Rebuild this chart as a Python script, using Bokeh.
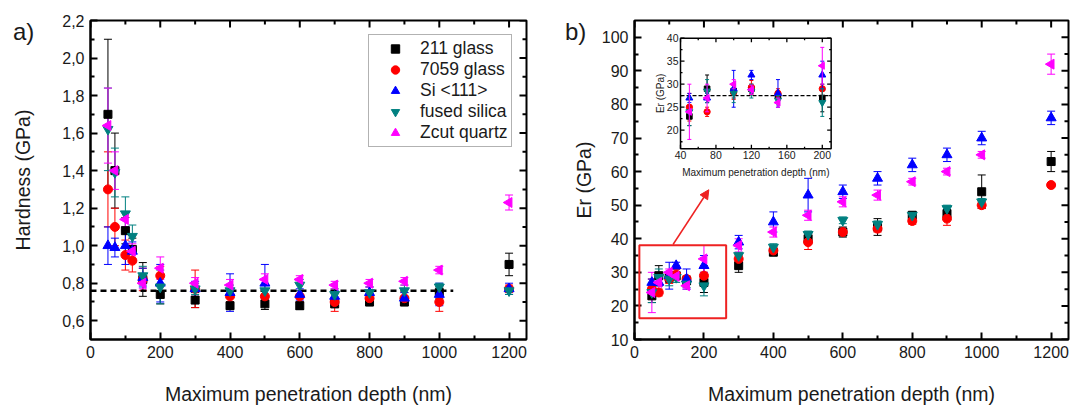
import numpy as np
from bokeh.plotting import figure
from bokeh.layouts import row
from bokeh.models import (ColumnDataSource, Whisker, TeeHead, FixedTicker, Div,
                          CustomJSTickFormatter, Arrow, NormalHead, Range1d, BoxAnnotation)
from bokeh.core.properties import value
from bokeh.embed import file_html
from bokeh.resources import INLINE

# ---------------- data ----------------
depth = [50, 70, 100, 120, 150, 200, 300, 400, 500, 600, 700, 800, 900, 1000, 1200]
names = ["211 glass", "7059 glass", "Si <111>", "fused silica", "Zcut quartz"]

hard_211 = [1.70, 1.40, 1.08, 0.98, 0.82, 0.74, 0.71, 0.68, 0.69, 0.68, 0.69, 0.70, 0.70, 0.75, 0.90]
hard_211_err = [0.40, 0.20, 0.07, 0.06, 0.09, 0.05, 0.04, 0.02, 0.03, 0.02, 0.02, 0.02, 0.02, 0.03, 0.06]
hard_7059 = [1.30, 1.10, 0.95, 0.92, 0.82, 0.84, 0.77, 0.73, 0.73, 0.73, 0.70, 0.72, 0.72, 0.70, 0.77]
hard_7059_err = [0.20, 0.10, 0.08, 0.06, 0.06, 0.05, 0.10, 0.03, 0.04, 0.03, 0.05, 0.02, 0.03, 0.05, 0.02]
hard_si = [1.00, 0.99, 1.00, 0.97, 0.83, 0.80, 0.77, 0.75, 0.80, 0.74, 0.73, 0.75, 0.72, 0.74, 0.77]
hard_si_err = [0.10, 0.05, 0.10, 0.05, 0.05, 0.10, 0.04, 0.10, 0.10, 0.03, 0.03, 0.03, 0.03, 0.06, 0.03]
hard_fused = [1.62, 1.39, 1.17, 1.05, 0.84, 0.78, 0.77, 0.76, 0.76, 0.79, 0.74, 0.75, 0.76, 0.78, 0.76]
hard_fused_err = [0.22, 0.13, 0.09, 0.06, 0.05, 0.09, 0.03, 0.03, 0.03, 0.03, 0.03, 0.03, 0.03, 0.02, 0.02]
hard_zcut = [1.64, 1.40, 1.14, 0.97, 0.80, 0.88, 0.80, 0.79, 0.82, 0.82, 0.79, 0.80, 0.81, 0.87, 1.23]
hard_zcut_err = [0.20, 0.10, 0.04, 0.04, 0.03, 0.06, 0.03, 0.03, 0.03, 0.02, 0.02, 0.02, 0.02, 0.02, 0.04]
hard_mean = 0.76
hard_mean_extent = [0, 1040]

er_211 = [23, 29, 28.5, 29, 27.5, 27, 32, 36, 40, 42, 43.5, 47, 47.5, 54, 63]
er_211_err = [2, 3, 1.5, 1, 1, 3, 2, 1, 1.5, 1.5, 2.5, 1, 1, 5, 3]
er_7059 = [25, 24, 28.2, 29.3, 28, 29, 34, 36.5, 39, 42, 43, 45.3, 46, 50, 56]
er_7059_err = [3, 1, 1.5, 1.5, 1, 3, 1, 1, 2.2, 1, 1, 1, 2, 1, 0.5]
er_si = [27, 27, 29, 32, 28, 32, 39, 45, 53, 54, 58, 62, 65, 70, 76]
er_si_err = [1, 1, 4, 1, 3, 3, 2, 3, 5, 2, 2, 2, 2, 2, 2]
er_fused = [24, 28.5, 28, 28.5, 26.5, 26, 35, 37.5, 41.3, 45.5, 44.3, 47, 49, 51]
er_fused_err = [3, 2.5, 2, 1.5, 1, 3, 1, 1, 1, 1, 1, 1, 1, 1]
er_zcut = [24, 27, 30, 28.8, 26, 34, 38, 42, 47, 51, 53, 57, 60, 65, 92]
er_zcut_err = [6, 3, 1, 1, 1, 4, 2, 1.5, 1.5, 1.5, 1.5, 1, 1, 1, 3]
er_mean_small = 27.5

x_ticks = [0, 200, 400, 600, 800, 1000, 1200]
x_minor = [100, 300, 500, 700, 900, 1100]
hard_ticks = [0.6, 0.8, 1.0, 1.2, 1.4, 1.6, 1.8, 2.0, 2.2]
hard_minor = [0.7, 0.9, 1.1, 1.3, 1.5, 1.7, 1.9, 2.1]
er_ticks = [10, 20, 30, 40, 50, 60, 70, 80, 90, 100]
er_minor = [15, 25, 35, 45, 55, 65, 75, 85, 95]
inset_x_ticks = [40, 80, 120, 160, 200]
inset_x_minor = [60, 100, 140, 180]
inset_y_ticks = [20, 25, 30, 35, 40]
inset_y_minor = [17.5, 22.5, 27.5, 32.5, 37.5]

colors = ["#000000", "#ff0000", "#0000ff", "#008080", "#ff00ff"]
markers = ["square", "circle", "triangle", "inverted_triangle", "triangle"]
angles = [0.0, 0.0, 0.0, 0.0, np.pi / 2]
sizes = [8, 9, 10, 10, 10]

FONT = "Liberation Sans"
TXT = "#1a1a1a"


def style_axis(ax, size="16px", standoff=6, tick_in=7, minor_in=4, lw=2):
    ax.major_label_text_font = FONT
    ax.major_label_text_font_size = size
    ax.major_label_text_color = TXT
    ax.major_label_standoff = standoff
    ax.axis_label_text_font = FONT
    ax.axis_label_text_font_style = "normal"
    ax.axis_label_text_color = TXT
    ax.axis_label_text_font_size = "19.5px"
    ax.major_tick_in = tick_in
    ax.major_tick_out = 0
    ax.minor_tick_in = minor_in
    ax.minor_tick_out = 0
    ax.axis_line_width = lw
    ax.major_tick_line_width = lw
    ax.minor_tick_line_width = lw
    ax.axis_line_color = "black"
    ax.major_tick_line_color = "black"
    ax.minor_tick_line_color = "black"


def mirror_ticks(p, xr, yr, xmaj, xmin, ymaj, ymin, major=7, minor=4, lw=2):
    st = dict(line_color="black", line_width=lw, length_units="screen")
    p.ray(x=xmaj, y=[yr.end] * len(xmaj), length=major, angle=-np.pi / 2, **st)
    p.ray(x=xmin, y=[yr.end] * len(xmin), length=minor, angle=-np.pi / 2, **st)
    p.ray(x=[xr.end] * len(ymaj), y=ymaj, length=major, angle=np.pi, **st)
    p.ray(x=[xr.end] * len(ymin), y=ymin, length=minor, angle=np.pi, **st)


def draw_series(p, x, y, err, i, legend=True):
    lo = [v - e for v, e in zip(y, err)]
    hi = [v + e for v, e in zip(y, err)]
    src = ColumnDataSource(dict(x=x[:len(y)], y=y, lo=lo, hi=hi))
    c = colors[i]
    w = Whisker(source=src, base="x", upper="hi", lower="lo", line_color=c, line_width=1,
                upper_head=TeeHead(size=8, line_color=c, line_width=1),
                lower_head=TeeHead(size=8, line_color=c, line_width=1))
    p.add_layout(w)
    kw = {"legend_label": names[i]} if legend else {}
    p.scatter("x", "y", source=src, marker=markers[i], size=sizes[i], angle=angles[i],
              fill_color=c, line_color=c, **kw)


def make_figure(width, xr, yr, border_left, border_right):
    p = figure(width=width, height=410, x_range=xr, y_range=yr,
               output_backend="svg", toolbar_location=None,
               min_border_left=border_left, min_border_right=border_right,
               min_border_top=20, min_border_bottom=71)
    p.grid.visible = False
    p.outline_line_color = "black"
    p.outline_line_width = 2
    return p


def panel_tag(text, left, top):
    return Div(text=text, styles={"position": "absolute", "left": f"{left}px", "top": f"{top}px",
                                  "font-family": FONT, "font-size": "24px", "line-height": "1",
                                  "color": TXT, "margin": "0", "padding": "0"})


# ---------------- panel a ----------------
xr1, yr1 = Range1d(0, 1250), Range1d(0.5, 2.2)
p1 = make_figure(560, xr1, yr1, 90, 34)
p1.xaxis.ticker = FixedTicker(ticks=x_ticks, minor_ticks=x_minor)
p1.yaxis.ticker = FixedTicker(ticks=hard_ticks, minor_ticks=hard_minor)
p1.yaxis.formatter = CustomJSTickFormatter(code="return tick.toFixed(1).replace('.', ',');")
p1.xaxis.axis_label = "Maximum penetration depth (nm)"
p1.yaxis.axis_label = "Hardness (GPa)"
for ax in (p1.xaxis[0], p1.yaxis[0]):
    style_axis(ax)
p1.xaxis.axis_label_standoff = 22
p1.yaxis.axis_label_standoff = 25
mirror_ticks(p1, xr1, yr1, x_ticks, x_minor, hard_ticks, hard_minor)

p1.line(hard_mean_extent, [hard_mean, hard_mean], line_color="black", line_width=2.5, line_dash="6 4")

hard = [(hard_211, hard_211_err), (hard_7059, hard_7059_err), (hard_si, hard_si_err),
        (hard_fused, hard_fused_err), (hard_zcut, hard_zcut_err)]
for i, (v, e) in enumerate(hard):
    draw_series(p1, depth, v, e, i)

lg = p1.legend[0]
lg.location = (278, 192)
lg.padding = 3
lg.spacing = 0
lg.margin = 0
lg.label_height = 21
lg.glyph_height = 21
lg.glyph_width = 46
lg.label_standoff = 2
lg.label_text_font = FONT
lg.label_text_font_size = "17.5px"
lg.label_text_color = TXT
lg.border_line_color = "#666666"
lg.border_line_width = 1.5

# ---------------- panel b ----------------
xr2, yr2 = Range1d(0, 1250), Range1d(10, 105)
p2 = make_figure(510, xr2, yr2, 74, 2)
p2.xaxis.ticker = FixedTicker(ticks=x_ticks, minor_ticks=x_minor)
p2.yaxis.ticker = FixedTicker(ticks=er_ticks, minor_ticks=er_minor)
p2.xaxis.axis_label = "Maximum penetration depth (nm)"
p2.yaxis.axis_label = "Er (GPa)"
for ax in (p2.xaxis[0], p2.yaxis[0]):
    style_axis(ax)
p2.xaxis.axis_label_standoff = 22
p2.yaxis.axis_label_standoff = 4
mirror_ticks(p2, xr2, yr2, x_ticks, x_minor, er_ticks, er_minor)

er = [(er_211, er_211_err), (er_7059, er_7059_err), (er_si, er_si_err),
      (er_fused, er_fused_err), (er_zcut, er_zcut_err)]
for i, (v, e) in enumerate(er):
    draw_series(p2, depth, v, e, i, legend=False)

p2.add_layout(BoxAnnotation(left=14, right=264, bottom=16.3, top=38.1, fill_alpha=0,
                            line_color="#ee2222", line_width=2, line_alpha=1))
p2.add_layout(Arrow(x_start=111, y_start=38.3, x_end=214, y_end=54.6, line_color="#ee2222",
                    line_width=1.5,
                    end=NormalHead(size=9, fill_color="#ee2222", line_color="#ee2222")))

# ---------------- inset (sub-coordinates inside panel b) ----------------
n_small = 6
ix = Range1d(40, 210)
iy = Range1d(16, 40)
sub = p2.subplot(x_source=ix, y_source=iy,
                 x_target=Range1d(132.5, 566.4), y_target=Range1d(66.84, 99.74))

sub.quad(left=[ix.start], right=[ix.end], bottom=[iy.start], top=[iy.end],
         fill_color="white", line_color="black", line_width=1.5)
tick_style = dict(line_color="black", line_width=1.3, length_units="screen")
sub.ray(x=inset_x_ticks, y=[iy.start] * 5, length=4, angle=np.pi / 2, **tick_style)
sub.ray(x=inset_x_ticks, y=[iy.end] * 5, length=4, angle=-np.pi / 2, **tick_style)
sub.ray(x=inset_x_minor, y=[iy.start] * 4, length=2, angle=np.pi / 2, **tick_style)
sub.ray(x=inset_x_minor, y=[iy.end] * 4, length=2, angle=-np.pi / 2, **tick_style)
sub.ray(x=[ix.start] * 5, y=inset_y_ticks, length=4, angle=0, **tick_style)
sub.ray(x=[ix.end] * 5, y=inset_y_ticks, length=4, angle=np.pi, **tick_style)
sub.ray(x=[ix.start] * 5, y=inset_y_minor, length=2, angle=0, **tick_style)
sub.ray(x=[ix.end] * 5, y=inset_y_minor, length=2, angle=np.pi, **tick_style)

lab = dict(text_font=value(FONT), text_font_size="10.5px", text_color=TXT)
sub.text(x=inset_x_ticks, y=[iy.start] * 5, text=[str(t) for t in inset_x_ticks],
         y_offset=2, text_align="center", text_baseline="top", **lab)
sub.text(x=[ix.start] * 5, y=inset_y_ticks, text=[str(t) for t in inset_y_ticks],
         x_offset=-2, text_align="right", text_baseline="middle", **lab)
lab["text_font_size"] = "10px"
sub.text(x=[(ix.start + ix.end) / 2], y=[iy.start], text=["Maximum penetration depth (nm)"],
         y_offset=18, text_align="center", text_baseline="top", **lab)
sub.text(x=[ix.start], y=[(iy.start + iy.end) / 2], text=["Er (GPa)"], x_offset=-20,
         angle=np.pi / 2, text_align="center", text_baseline="middle", **lab)

sub.line(x=[ix.start, ix.end], y=[er_mean_small, er_mean_small], line_color="black",
         line_width=1.2, line_dash="4 2")

for i, (v, e) in enumerate(er):
    xs = depth[:n_small]
    ys = v[:n_small]
    es = e[:n_small]
    lo = [a - b for a, b in zip(ys, es)]
    hi = [a + b for a, b in zip(ys, es)]
    c = colors[i]
    sub.segment(x0=xs, y0=lo, x1=xs, y1=hi, line_color=c, line_width=1)
    sub.scatter(x=xs + xs, y=lo + hi, marker="dash", size=4, line_color=c, line_width=1)
    sub.scatter(x=xs, y=ys, marker=markers[i], size=sizes[i] * 0.7, angle=angles[i],
                fill_color=c, line_color=c)

tag_a = panel_tag("a)", 13, 20)
tag_b = panel_tag("b)", 565, 20)

layout = row(p1, p2, tag_a, tag_b, styles={"position": "relative"})

open("out.html", "w").write(file_html(layout, INLINE))
